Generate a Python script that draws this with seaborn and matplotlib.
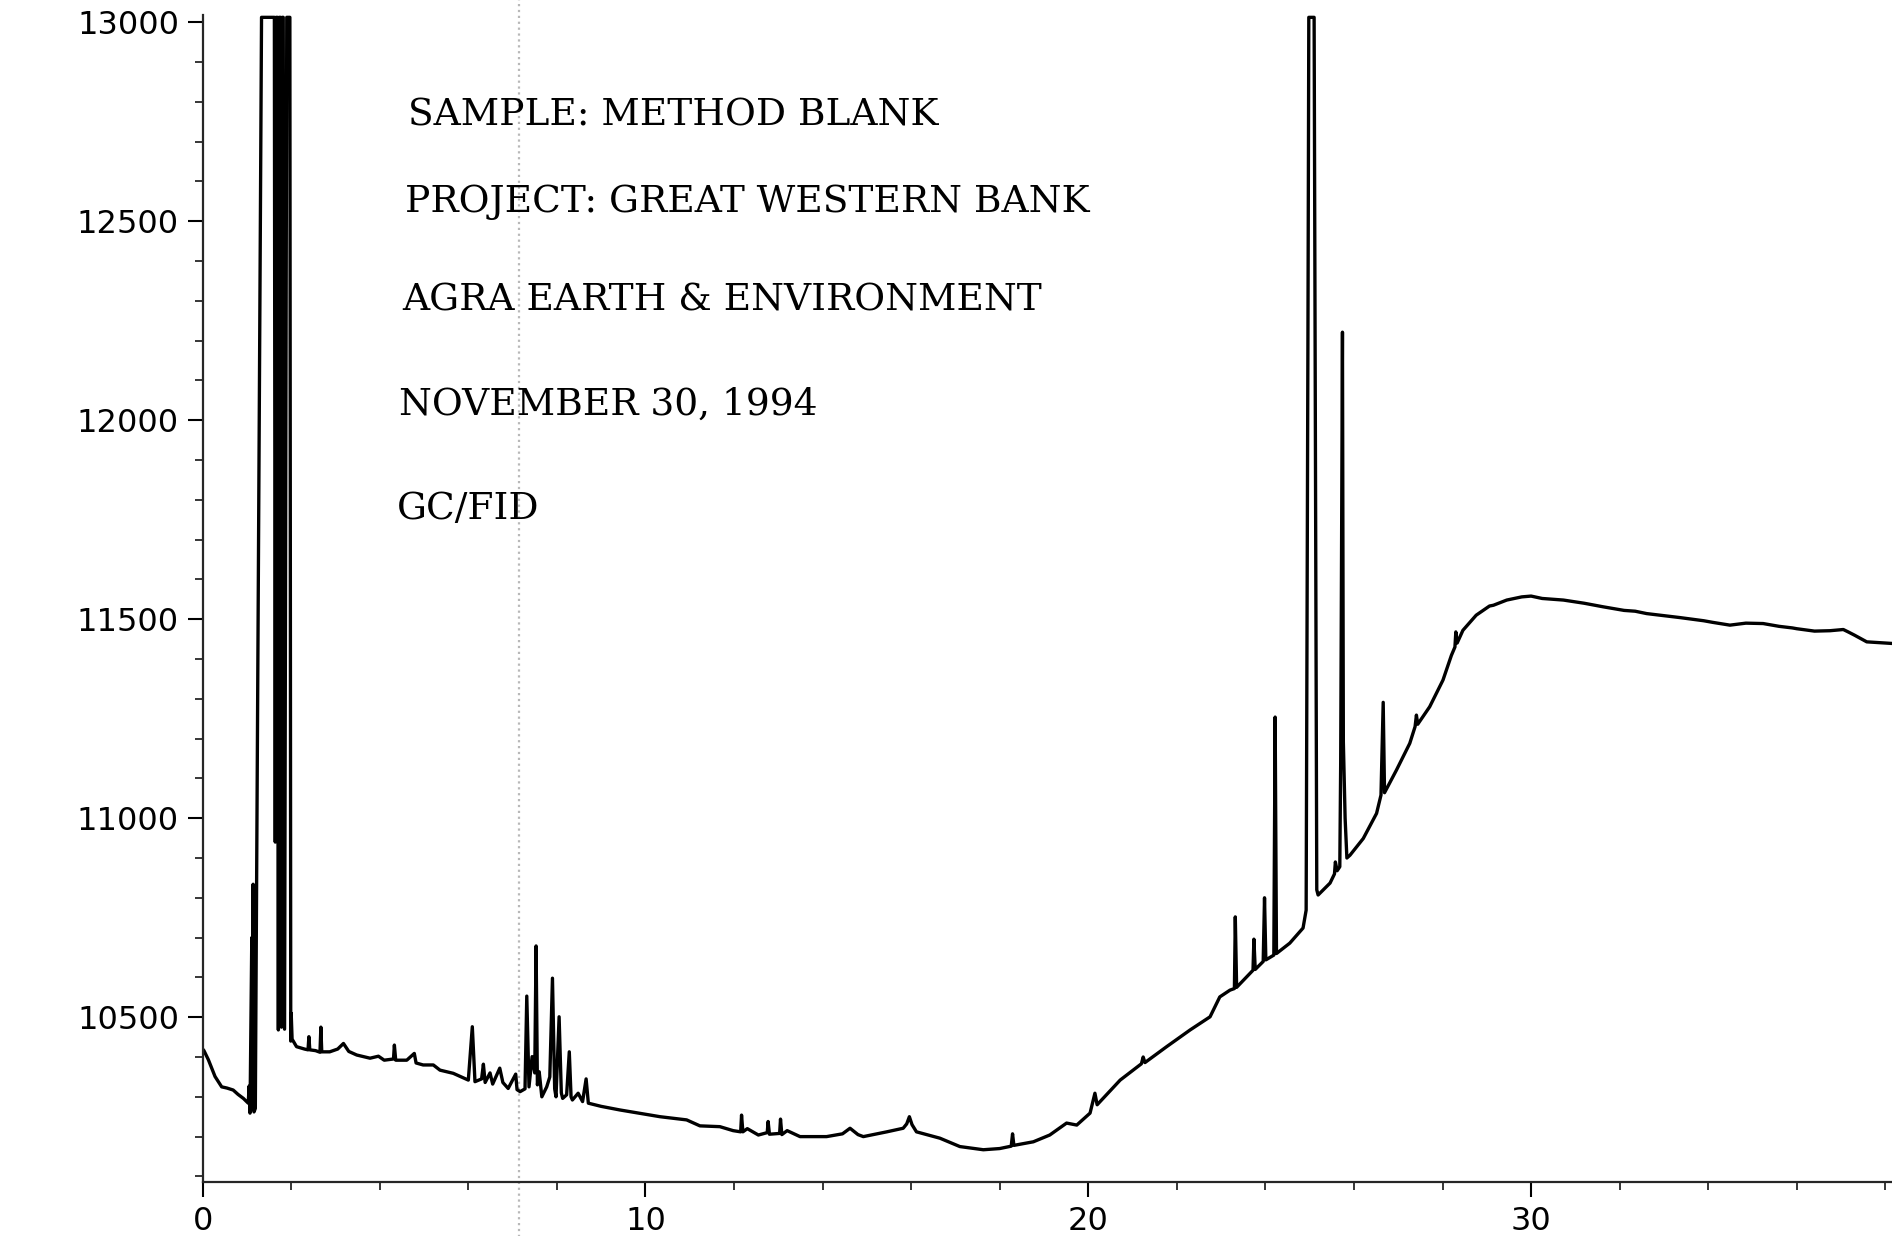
import pandas as pd
import seaborn as sns
import matplotlib.pyplot as plt
from matplotlib.ticker import MultipleLocator

# retention time (min) and detector response
rt = [
    0.00, 0.03, 0.13, 0.28, 0.43, 0.55, 0.69, 0.80, 0.92, 1.03,
    1.05, 1.07, 1.11, 1.12, 1.14, 1.16, 1.19, 1.33, 1.62, 1.64,
    1.66, 1.69, 1.71, 1.73, 1.76, 1.78, 1.80, 1.82, 1.85, 1.90,
    1.97, 1.99, 2.00, 2.02, 2.12, 2.30, 2.38, 2.40, 2.42, 2.55,
    2.65, 2.67, 2.69, 2.87, 3.05, 3.18, 3.30, 3.48, 3.78, 3.97,
    4.10, 4.31, 4.33, 4.36, 4.61, 4.78, 4.82, 4.98, 5.21, 5.36,
    5.66, 6.00, 6.09, 6.15, 6.30, 6.34, 6.38, 6.49, 6.55, 6.71,
    6.78, 6.90, 7.07, 7.10, 7.17, 7.28, 7.32, 7.37, 7.44, 7.50,
    7.53, 7.56, 7.60, 7.66, 7.77, 7.84, 7.90, 7.95, 7.98, 8.05,
    8.10, 8.13, 8.22, 8.28, 8.32, 8.35, 8.48, 8.58, 8.66, 8.71,
    9.00, 9.42, 9.80, 10.33, 10.93, 11.23, 11.68, 11.98, 12.15, 12.17,
    12.20, 12.30, 12.55, 12.75, 12.77, 12.80, 13.03, 13.05, 13.08, 13.20,
    13.49, 14.09, 14.45, 14.62, 14.80, 14.92, 15.45, 15.82, 15.90, 15.96,
    16.02, 16.12, 16.65, 17.10, 17.63, 18.00, 18.26, 18.29, 18.32, 18.76,
    19.13, 19.51, 19.74, 20.04, 20.15, 20.20, 20.72, 21.20, 21.24, 21.28,
    21.77, 22.30, 22.75, 22.97, 23.20, 23.30, 23.32, 23.35, 23.65, 23.72,
    23.74, 23.77, 23.95, 23.98, 24.01, 24.19, 24.22, 24.25, 24.55, 24.85,
    24.92, 24.96, 24.98, 25.10, 25.16, 25.19, 25.46, 25.56, 25.58, 25.62,
    25.68, 25.70, 25.74, 25.76, 25.80, 25.84, 25.91, 26.21, 26.51, 26.61,
    26.66, 26.69, 26.96, 27.26, 27.38, 27.41, 27.44, 27.71, 28.01, 28.20,
    28.28, 28.30, 28.33, 28.46, 28.76, 29.06, 29.15, 29.45, 29.79, 30.00,
    30.25, 30.73, 31.20, 31.63, 32.10, 32.35, 32.61, 33.36, 33.90, 34.10,
    34.49, 34.85, 35.24, 35.60, 35.90, 36.00, 36.40, 36.75, 37.05, 37.16,
    37.30, 37.58, 38.15,
]
signal = [
    10420, 10416, 10393, 10351, 10325, 10322, 10317, 10306, 10296, 10284,
    10327, 10259, 10700, 10270, 10834, 10262, 10271, 13012, 13012, 10940,
    13012, 13012, 10468, 13012, 13012, 10475, 13012, 13012, 10470, 13012,
    13012, 10440, 10510, 10445, 10426, 10420, 10418, 10451, 10418, 10416,
    10412, 10475, 10413, 10413, 10420, 10434, 10414, 10405, 10397, 10402,
    10392, 10395, 10430, 10392, 10392, 10409, 10385, 10380, 10380, 10367,
    10359, 10342, 10476, 10338, 10345, 10382, 10336, 10360, 10332, 10372,
    10336, 10321, 10357, 10318, 10313, 10320, 10553, 10325, 10401, 10360,
    10679, 10330, 10363, 10300, 10325, 10350, 10598, 10320, 10300, 10501,
    10310, 10296, 10305, 10413, 10300, 10292, 10309, 10288, 10345, 10284,
    10276, 10267, 10260, 10250, 10242, 10227, 10225, 10215, 10212, 10254,
    10212, 10220, 10204, 10210, 10238, 10206, 10208, 10244, 10205, 10215,
    10200, 10200, 10207, 10221, 10205, 10200, 10212, 10221, 10232, 10250,
    10230, 10212, 10196, 10175, 10167, 10170, 10176, 10207, 10178, 10187,
    10204, 10234, 10229, 10259, 10309, 10280, 10342, 10383, 10400, 10386,
    10426, 10468, 10501, 10551, 10568, 10572, 10752, 10575, 10610, 10618,
    10696, 10620, 10640, 10800, 10644, 10656, 11254, 10660, 10686, 10724,
    10769, 12190, 13012, 13012, 10820, 10807, 10837, 10860, 10890, 10868,
    10878, 11140, 12221, 11192, 11000, 10900, 10907, 10949, 11012, 11058,
    11291, 11064, 11121, 11188, 11230, 11259, 11236, 11280, 11347, 11409,
    11430, 11468, 11440, 11472, 11510, 11533, 11535, 11548, 11556, 11558,
    11552, 11548, 11540, 11531, 11522, 11520, 11514, 11504, 11496, 11492,
    11485, 11490, 11489, 11482, 11478, 11476, 11470, 11471, 11474, 11468,
    11460, 11443, 11439,
]

header_lines = [
    "SAMPLE: METHOD BLANK",
    "PROJECT: GREAT WESTERN BANK",
    "AGRA EARTH & ENVIRONMENT",
    "NOVEMBER 30, 1994",
    "GC/FID",
]
header_x = [4.64, 4.57, 4.50, 4.44, 4.39]
header_y = [12766, 12548, 12300, 12039, 11778]

df = pd.DataFrame({"rt": rt, "signal": signal})

sns.set_style("ticks")
fig = plt.figure(figsize=(18.92, 12.36), dpi=100)
ax = fig.add_axes([0.1071, 0.0437, 0.8929, 0.9442])

sns.lineplot(data=df, x="rt", y="signal", sort=False, estimator=None,
             color="black", linewidth=2.4, ax=ax)

# faint fold line from the scanned sheet
ax.axvline(7.15, ymin=-0.05, ymax=1.02, clip_on=False, color="#b8b8b8",
           linestyle=":", linewidth=1.6, zorder=0)

for txt, tx, ty in zip(header_lines, header_x, header_y):
    ax.text(tx, ty, txt, ha="left", va="center", fontsize=27,
            family="DejaVu Serif", color="black")

ax.set_xlim(0, 38.15)
ax.set_ylim(10086, 13018)
ax.xaxis.set_major_locator(MultipleLocator(10))
ax.xaxis.set_minor_locator(MultipleLocator(2))
ax.yaxis.set_major_locator(MultipleLocator(500))
ax.yaxis.set_minor_locator(MultipleLocator(100))

ax.set_xlabel("")
ax.set_ylabel("")
sns.despine(ax=ax, top=True, right=True)
for side in ["left", "bottom"]:
    ax.spines[side].set_linewidth(1.6)

ax.tick_params(axis="both", which="major", direction="out", length=11,
               width=1.5, labelsize=23, colors="black")
ax.tick_params(axis="both", which="minor", direction="out", length=6,
               width=1.3)
ax.tick_params(axis="y", which="major", pad=6)
ax.tick_params(axis="x", which="major", pad=6)

plt.savefig("out.png", dpi=100)
